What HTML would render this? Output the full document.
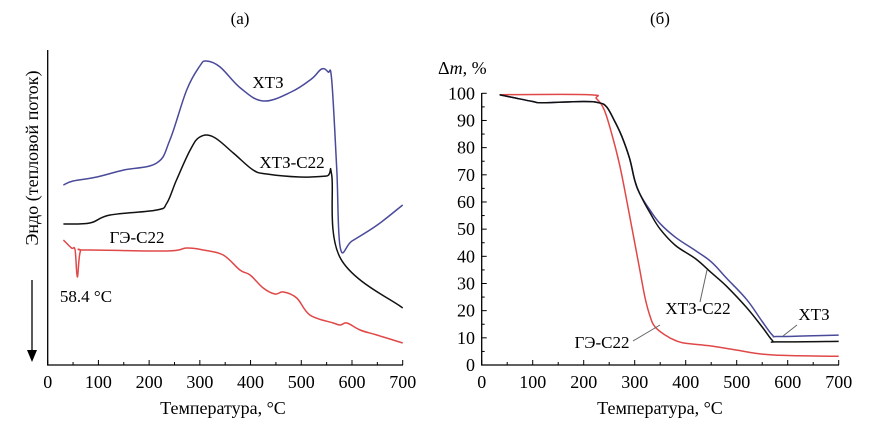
<!DOCTYPE html>
<html><head><meta charset="utf-8">
<style>
html,body{margin:0;padding:0;background:#fff;width:894px;height:434px;overflow:hidden}
svg{display:block;font-family:"Liberation Serif","DejaVu Serif",serif}
</style></head>
<body>
<svg id="fig" width="894" height="434" viewBox="0 0 894 434" xmlns="http://www.w3.org/2000/svg">
<text x="240" y="24" font-size="17" text-anchor="middle">(а)</text>
<text x="660" y="24" font-size="17" text-anchor="middle">(б)</text>
<text transform="translate(38,158) rotate(-90)" font-size="18" text-anchor="middle">Эндо (тепловой поток)</text>
<line x1="32" y1="280" x2="32" y2="352" stroke="#000" stroke-width="1.3"/>
<polygon points="27,350 37,350 32,362" fill="#000"/>
<text x="223" y="414" font-size="18" text-anchor="middle">Температура, °С</text>
<text x="660" y="414" font-size="18" text-anchor="middle">Температура, °С</text>
<text x="438" y="74" font-size="18">Δ<tspan font-style="italic">m</tspan>, %</text>
<g id="ga"></g><g id="gb"></g>
</svg>
<script>
// Panel (a) DSC data
const dscTemps = [0,100,200,300,400,500,600,700];
const xt3T = [31,50,97,150,215,241,274,300,313,340,380,425,480,520,540,553,560,570,577,600,650,700];
const xt3Y = [185,181,177,170,163,140,90,66,61,67,88,101,92,79,69,72,80,170,248,241,225,205];
const xtcT = [31,83,123,215,235,254,281,300,327,366,405,432,497,550,560,577,700];
const xtcY = [224,223,215,210,203,180,150,137,137,153,170,174,177,176,175,258,308];
const geT = [31,47,54,58.4,64,77,235,274,307,346,379,399,425,448,465,491,517,563,577,590,616,649,700];
const geY = [240,248,250,277,252,250,251,248,250,255,270,275,288,294,292,298,315,323,325,323,330,335,343];
// Panel (b) TGA data
const tgaXTicks = [0,100,200,300,400,500,600,700];
const tgaYTicks = [0,10,20,30,40,50,60,70,80,90,100];
const tgaXt3T = [35,60,100,120,200,230,245,260,275,290,300,310,330,350,380,420,450,480,520,550,570,580,650,700];
const tgaXt3 = [99.5,98.5,97,96.5,97,96.5,95,90,84,76,68,63,57,52,47,42,38,32,24,16,11,10.5,10.8,11];
const tgaXtcT = [35,60,100,120,200,230,245,260,275,290,300,310,330,350,380,420,450,480,520,550,570,580,700];
const tgaXtc = [99.5,98.5,97,96.5,97,96.5,95,90,84,76,68,63,56,50,44,39,34,29,21,14,9,8.5,8.7];
const tgaGeT = [35,210,225,240,255,270,285,300,310,320,330,340,360,380,400,450,500,550,600,700];
const tgaGe = [99.5,99.5,98,94,85,74,60,45,35,25,18,14,11,9,8,7,5.5,4,3.5,3.2];

const NS="http://www.w3.org/2000/svg";
function mk(p,t,a){const e=document.createElementNS(NS,t);for(const k in a)e.setAttribute(k,a[k]);p.appendChild(e);return e;}
const ax=t=>47.7+t*355/700, ayA=y=>y;
const bx=t=>481.7+t*357/700, by=v=>365-v*2.717;
const ga=document.getElementById('ga'), gb=document.getElementById('gb');

let e=mk(ga,'path',{d:'M47.7,50 V365 H403',fill:'none',stroke:'#000','stroke-width':1.3});


for(let t=0;t<=700;t+=50){
  e=mk(ga,'line',{x1:ax(t),x2:ax(t),y1:365,y2:365-(t%100?3:5),stroke:'#000','stroke-width':1});
  
  
}
dscTemps.forEach(t=>{
  e=mk(ga,'text',{x:ax(t),y:388,'font-size':18,'text-anchor':'middle'});e.textContent=t;
  
  
});
function line(g,T,Y,fx,fy,col,name){
  const P=T.map((t,i)=>[fx(t),fy(Y[i])]);
  let d='M'+P[0][0].toFixed(1)+','+P[0][1].toFixed(1);
  const k=0.18;
  for(let i=0;i<P.length-1;i++){
    const p0=P[Math.max(0,i-1)],p1=P[i],p2=P[i+1],p3=P[Math.min(P.length-1,i+2)];
    const c1=[p1[0]+(p2[0]-p0[0])*k,p1[1]+(p2[1]-p0[1])*k];
    const c2=[p2[0]-(p3[0]-p1[0])*k,p2[1]-(p3[1]-p1[1])*k];
    d+=' C'+c1.map(v=>v.toFixed(1))+' '+c2.map(v=>v.toFixed(1))+' '+p2.map(v=>v.toFixed(1));
  }
  const p=mk(g,'path',{d:d,fill:'none',stroke:col,'stroke-width':1.5,'stroke-linejoin':'round'});
  
  
}
line(ga,xt3T,xt3Y,ax,ayA,'#4a4a9a','dsc-xt3-curve');
line(ga,xtcT,xtcY,ax,ayA,'#111','dsc-xt3-c22-curve');
line(ga,geT,geY,ax,ayA,'#e04848','dsc-ge-c22-curve');
function lab(g,x,y,s,name){const t=mk(g,'text',{x:x,y:y,'font-size':17,'text-anchor':'middle'});t.textContent=s;
  
  }
lab(ga,268,88,'ХТЗ','dsc-xt3-label');
lab(ga,292,168,'ХТЗ-С22','dsc-xt3-c22-label');
lab(ga,137,243,'ГЭ-С22','dsc-ge-c22-label');
lab(ga,86,302,'58.4 °C','peak-annotation');

e=mk(gb,'path',{d:'M481.7,93 V365 H839',fill:'none',stroke:'#000','stroke-width':1.3});


for(let t=0;t<=700;t+=50){
  e=mk(gb,'line',{x1:bx(t),x2:bx(t),y1:365,y2:365-(t%100?3:5),stroke:'#000','stroke-width':1});
  
  
}
for(let v=0;v<=100;v+=5){
  e=mk(gb,'line',{x1:481.7,x2:481.7+(v%10?3:5),y1:by(v),y2:by(v),stroke:'#000','stroke-width':1});
  
  
}
tgaXTicks.forEach(t=>{
  e=mk(gb,'text',{x:bx(t),y:388,'font-size':18,'text-anchor':'middle'});e.textContent=t;
  
  
});
tgaYTicks.forEach(v=>{
  e=mk(gb,'text',{x:475,y:by(v)+6,'font-size':18,'text-anchor':'end'});e.textContent=v;
  
  
});
line(gb,tgaGeT,tgaGe,bx,by,'#e04848','tga-ge-c22-curve');
line(gb,tgaXt3T,tgaXt3,bx,by,'#4a4a9a','tga-xt3-curve');
line(gb,tgaXtcT,tgaXtc,bx,by,'#111','tga-xt3-c22-curve');
function lead(x1,y1,x2,y2,name){const l=mk(gb,'line',{x1:x1,y1:y1,x2:x2,y2:y2,stroke:'#666','stroke-width':1});
  
  }
lead(797,325,783,336,'tga-xt3-leader');
lead(707,270,700,302,'tga-xt3-c22-leader');
lead(633,341,660,325,'tga-ge-c22-leader');
lab(gb,814,320,'ХТЗ','tga-xt3-label');
lab(gb,698,314,'ХТЗ-С22','tga-xt3-c22-label');
lab(gb,602,348,'ГЭ-С22','tga-ge-c22-label');
</script>
</body></html>
